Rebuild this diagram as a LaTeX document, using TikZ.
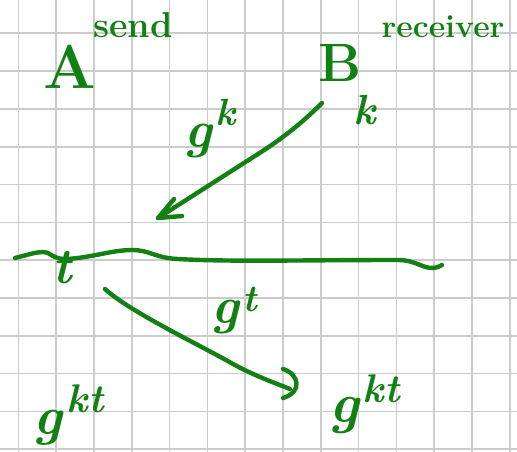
\documentclass[tikz,border=0pt]{standalone}
\definecolor{pen}{RGB}{18,128,18}
\definecolor{gridc}{RGB}{204,204,204}
\tikzset{
  hand/.style={draw=pen, line width=4.4pt, line cap=round, line join=round},
  lbl/.style={text=pen, inner sep=0pt, outer sep=0pt, font=\bfseries},
  gridline/.style={draw=gridc, line width=1.6pt}
}
\newcommand{\fs}[1]{\fontsize{#1}{#1}\selectfont}
\newcommand{\gsup}[5]{{\fs{#1}\itshape g\kern#5}\raisebox{#3}{\fs{#4}\itshape #2}}
\begin{document}
\begin{tikzpicture}[x=1pt,y=-1pt]
\useasboundingbox (0,0) rectangle (517,452);
\fill[white] (0,0) rectangle (517,452);
% grid paper
\foreach \i in {0,...,13} \draw[gridline] ({18.3+37.8*\i},0) -- ({18.3+37.8*\i},452);
\foreach \j in {0,...,11} \draw[gridline] (0,{33.3+37.8*\j}) -- (517,{33.3+37.8*\j});
% labels
\node[lbl] (send) at (133,25) {\fs{36}send};
\node[lbl] (receiver) at (443,27) {\fs{32}receiver};
\node[lbl] (A) at (70,67) {\fs{62}A};
\node[lbl] (B) at (340,63) {\fs{54}B};
\node[lbl] (k) at (365,110) {\fs{42}\itshape k};
\node[lbl, anchor=base west] (gk) at (184,147) {\gsup{52}{k}{22pt}{38}{4pt}};
\node[lbl] (t) at (62,268) {\fs{50}\itshape t};
\node[lbl, anchor=base west] (gt) at (211,323) {\gsup{52}{t}{12pt}{38}{4pt}};
\node[lbl, anchor=base west] (gktA) at (33,434) {\gsup{54}{kt}{22pt}{40}{5pt}};
\node[lbl, anchor=base west] (gktB) at (329,422) {\gsup{56}{kt}{20pt}{40}{4pt}};
% connector points
\coordinate (b1) at (322,103);
\coordinate (bend1) at (258,154);
\coordinate (a1) at (158,218);
\coordinate (a2) at (105,289);
\coordinate (b2) at (290,389);
% B -> A arrow
\draw[hand] (b1) .. controls (300,125) and (280,140) .. (bend1) -- (a1);
\draw[hand] (174,199) -- (a1) -- (182,216);
% time line
\draw[hand] (15,258) .. controls (28,255) and (40,250) .. (48,253)
  .. controls (53,256) and (56,259) .. (66,259)
  .. controls (90,258) and (112,250) .. (132,250)
  .. controls (150,250) and (155,258) .. (178,259)
  .. controls (230,262) and (300,260) .. (398,260)
  .. controls (415,260) and (422,268) .. (432,268)
  .. controls (437,268) and (440,266) .. (442,265);
% A -> B arrow
\draw[hand] (a2) .. controls (130,312) and (200,345) .. (233,364)
  .. controls (255,376) and (275,383) .. (b2);
\draw[hand] (283,369) .. controls (299,374) and (303,392) .. (283,398);
\end{tikzpicture}
\end{document}
